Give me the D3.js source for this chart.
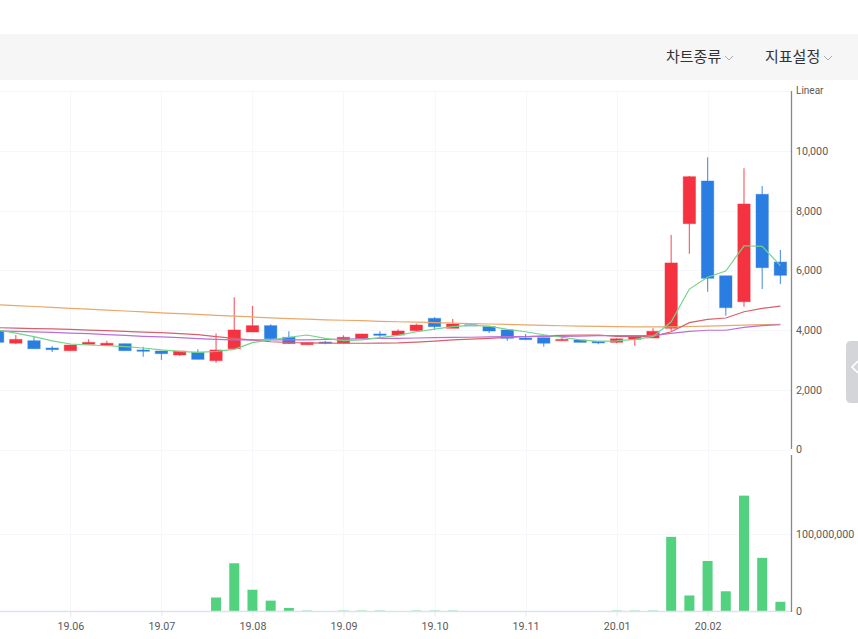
<!DOCTYPE html>
<html>
<head>
<meta charset="utf-8">
<script src="https://cdn.jsdelivr.net/npm/d3@7"></script>
<style>
html, body { margin: 0; padding: 0; background: #fff; overflow: hidden; }
svg { display: block; font-family: Roboto, sans-serif; }
</style>
</head>
<body>
<svg id="chart" width="858" height="639"></svg>
<script>
// candle values, oldest first
var opens  = [3980,3560,3645,3400,3310,3525,3490,3545,3335,3300,3165,3255,2975,3375,3935,4150,3760,3510,3600,3560,3710,3870,3835,3980,4395,4060,4180,4115,4005,3735,3745,3645,3670,3625,3590,3690,3735,4060,7565,8995,5820,4950,8550,6280];
var closes = [3590,3690,3375,3345,3500,3590,3560,3310,3290,3210,3300,3020,3335,4005,4150,3710,3545,3580,3560,3760,3870,3825,3970,4170,4115,4205,4140,3970,3725,3680,3560,3690,3590,3570,3710,3780,3960,6250,9140,5735,4750,8225,6090,5835];
var highs  = [4010,3835,3780,3470,3500,3690,3645,3545,3445,3300,3300,3355,3890,5100,4810,4195,3960,3580,3645,3825,3880,3960,4025,4225,4430,4370,4180,4115,4005,3870,3745,3760,3670,3640,3725,3790,4060,7185,9160,9790,5820,9420,8825,6680];
var lows   = [3590,3525,3375,3265,3310,3525,3490,3310,3110,3000,3130,3020,2910,3375,3935,3670,3545,3510,3525,3560,3710,3760,3835,3980,4005,4060,4140,3900,3645,3680,3445,3645,3590,3530,3560,3475,3735,3980,6560,5285,4480,4785,5375,5545];
var volumes = [0.3,0.3,0.3,0.3,0.3,0.3,0.3,0.3,0.3,0.5,0.5,0.5,18,62,28,14,4.5,1.5,0.5,1.5,1.5,1.5,0.5,1.5,1.5,1.5,0.4,0.3,0.3,0.3,0.3,0.3,0.3,0.3,1.5,1.5,1.5,96,20.6,65,26,149,69,12.5].map(function(d){ return d * 1000000; });

// moving averages
var maShort = [4005,3900,3780,3640,3535,3500,3475,3445,3400,3335,3290,3255,3290,3355,3580,3670,3760,3835,3725,3645,3670,3745,3825,3945,4035,4115,4160,4135,4025,3945,3845,3760,3670,3625,3640,3690,3780,4280,5375,5770,5980,6825,6805,6160];
var maMid   = [4080,4065,4050,4040,4025,4000,3980,3960,3935,3915,3885,3850,3780,3720,3665,3610,3585,3575,3565,3560,3560,3565,3575,3600,3630,3670,3700,3725,3755,3785,3805,3825,3835,3835,3790,3780,3790,3945,4250,4360,4405,4615,4730,4805];
var maMidL  = [3980,3960,3940,3925,3900,3880,3850,3820,3790,3770,3745,3715,3690,3675,3670,3670,3670,3675,3685,3695,3710,3720,3725,3735,3745,3755,3760,3770,3780,3780,3785,3790,3800,3815,3815,3815,3815,3890,3960,3995,3995,4090,4150,4180];
var maLong  = [4850,4820,4790,4760,4730,4700,4670,4640,4610,4580,4555,4525,4495,4465,4440,4410,4385,4365,4345,4330,4315,4295,4280,4265,4250,4235,4220,4205,4190,4175,4160,4145,4135,4125,4115,4110,4105,4105,4120,4135,4150,4170,4185,4195];

var tickIndex = [4,9,14,19,24,29,34,39];
var tickLabels = ["19.06","19.07","19.08","19.09","19.10","19.11","20.01","20.02"];
var priceTicks = [0,2000,4000,6000,8000,10000];
var volumeTicks = [0,100000000];
var menuLabels = ["차트종류","지표설정"];

var W = 858, H = 639;
var PLOT_RIGHT = 791;
var UP = "#f5323f", DOWN = "#2a7de1", VOL = "#52d17f", GRID = "#f6f7fa", TEXT = "#5a5a5a";

var svg = d3.select("#chart");

var x = d3.scaleLinear().domain([0,43]).range([-2.4,780.4]);
var y = d3.scaleLinear().domain([0,12000]).range([449.5,91.3]);
var yVol = d3.scaleLinear().domain([0,200000000]).range([611.5,456]);

// toolbar
svg.append("rect").attr("x",0).attr("y",34).attr("width",W).attr("height",46).attr("fill","#f6f6f6");
var menuX = [666,765];
menuLabels.forEach(function(t,i){
    svg.append("text").attr("x",menuX[i]).attr("y",62)
        .style("font-family","'Noto Sans CJK KR'").style("font-size","15px").attr("fill","#333").text(t);
    var cx = menuX[i] + 63;
    svg.append("path").attr("d","M"+(cx-4)+",56 L"+cx+",60 L"+(cx+4)+",56")
        .attr("fill","none").attr("stroke","#999").attr("stroke-width",0.8);
});

// grid
var grid = svg.append("g");
grid.selectAll(".hgrid").data(priceTicks.concat([12000])).enter().append("line")
    .attr("x1",0).attr("x2",PLOT_RIGHT)
    .attr("y1",function(d){ return Math.round(y(d))+0.5; })
    .attr("y2",function(d){ return Math.round(y(d))+0.5; })
    .attr("stroke",GRID);
grid.append("line").attr("x1",0).attr("x2",PLOT_RIGHT)
    .attr("y1",Math.round(yVol(volumeTicks[1]))+0.5).attr("y2",Math.round(yVol(volumeTicks[1]))+0.5)
    .attr("stroke",GRID);
grid.selectAll(".vgrid").data(tickIndex).enter().append("line")
    .attr("x1",function(d){ return Math.round(x(d))+0.5; })
    .attr("x2",function(d){ return Math.round(x(d))+0.5; })
    .attr("y1",91).attr("y2",611).attr("stroke",GRID);

// volume bars
svg.append("g").selectAll("rect").data(volumes).enter().append("rect")
    .attr("x",function(d,i){ return x(i)-5; })
    .attr("width",10)
    .attr("y",function(d){ return yVol(d); })
    .attr("height",function(d){ return yVol(0)-yVol(d); })
    .attr("fill",VOL)
    .attr("opacity",function(d){ return d < 3000000 ? 0.55 : 1; });

// candles
var candles = svg.append("g");
opens.forEach(function(o,i){
    var c = closes[i] >= o ? UP : DOWN;
    var top = y(Math.max(o,closes[i])), bot = y(Math.min(o,closes[i]));
    candles.append("line").attr("x1",x(i)).attr("x2",x(i))
        .attr("y1",y(highs[i])).attr("y2",y(lows[i]))
        .attr("stroke",c).attr("stroke-width",1.2).attr("opacity",0.75);
    candles.append("rect").attr("x",x(i)-6.2).attr("width",12.4)
        .attr("y",top).attr("height",Math.max(bot-top,1))
        .attr("fill",c).attr("stroke",c).attr("stroke-opacity",0.4).attr("stroke-width",1);
});

// moving average lines
var line = d3.line().x(function(d,i){ return x(i); }).y(function(d){ return y(d); });
var maSeries = [[maLong,"#e9a869"],[maMid,"#d9606a"],[maMidL,"#b870d8"],[maShort,"#74d48a"]];
maSeries.forEach(function(s){
    svg.append("path").attr("d",line(s[0])).attr("fill","none")
        .attr("stroke",s[1]).attr("stroke-width",1.2);
});

// axes
var xAxis = d3.axisBottom(x).tickValues(tickIndex).tickSize(5).tickPadding(5.5)
    .tickFormat(function(d,i){ return tickLabels[i]; });
var gx = svg.append("g").attr("transform","translate(0,611.5)").call(xAxis);
gx.select(".domain").remove();
svg.append("line").attr("x1",0).attr("x2",PLOT_RIGHT).attr("y1",611.5).attr("y2",611.5)
    .attr("stroke","#dfe2ee").attr("stroke-width",1.4);
gx.selectAll("line").attr("stroke","#e6e8f0");

var yAxis = d3.axisRight(y).tickValues(priceTicks).tickSize(0).tickPadding(5).tickFormat(d3.format(","));
var gy = svg.append("g").attr("transform","translate("+PLOT_RIGHT+",0)").call(yAxis);
gy.select(".domain").remove();

var yVolAxis = d3.axisRight(yVol).tickValues(volumeTicks).tickSize(0).tickPadding(5).tickFormat(d3.format(","));
var gv = svg.append("g").attr("transform","translate("+PLOT_RIGHT+",0)").call(yVolAxis);
gv.select(".domain").remove();

svg.selectAll(".tick text").attr("fill",TEXT).style("font-family","Roboto").style("font-size","10.7px");

svg.append("line").attr("x1",PLOT_RIGHT+0.5).attr("x2",PLOT_RIGHT+0.5).attr("y1",91).attr("y2",449)
    .attr("stroke","#888").attr("stroke-width",1.3);
svg.append("line").attr("x1",PLOT_RIGHT+0.5).attr("x2",PLOT_RIGHT+0.5).attr("y1",455).attr("y2",612)
    .attr("stroke","#888").attr("stroke-width",1.3);
svg.append("text").attr("x",796).attr("y",94).attr("fill",TEXT)
    .style("font-size","10px").text("Linear");

// side handle
svg.append("path").attr("d","M858,341 H851 Q846,341 846,346 V398 Q846,403 851,403 H858 Z").attr("fill","#d3d5d8");
svg.append("path").attr("d","M858,361 L852,367 L858,373").attr("fill","none").attr("stroke","#fff").attr("stroke-width",1.6);
</script>
</body>
</html>
